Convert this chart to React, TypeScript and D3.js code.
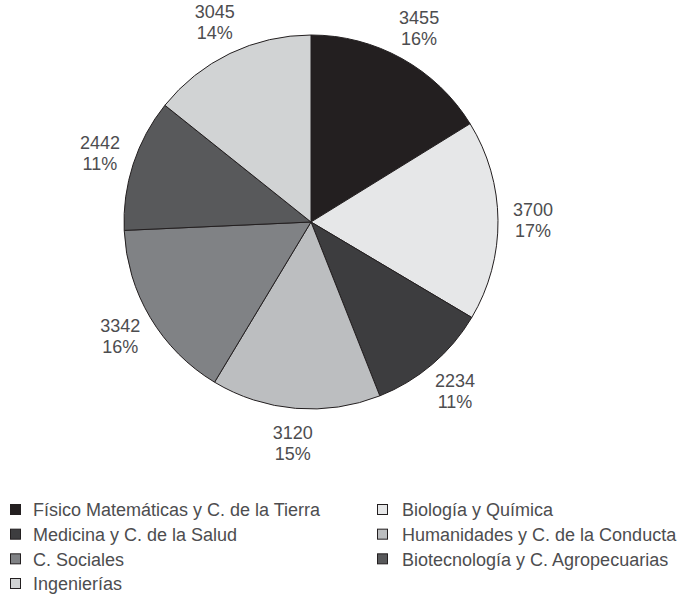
import React from "react";
import * as d3 from "d3";

const categories = [
  "Físico Matemáticas y C. de la Tierra",
  "Biología y Química",
  "Medicina y C. de la Salud",
  "Humanidades y C. de la Conducta",
  "C. Sociales",
  "Biotecnología y C. Agropecuarias",
  "Ingenierías",
];
const values = [3455, 3700, 2234, 3120, 3342, 2442, 3045];
const percentLabels = ["16%", "17%", "11%", "15%", "16%", "11%", "14%"];
const colors = ["#231f20", "#e6e7e8", "#3d3d3f", "#bcbec0", "#808285", "#58595b", "#d1d3d4"];

const W = 682;
const H = 597;
const cx = 311;
const cy = 222;
const R = 187;
const labelR = 222;

export default function App() {
  const pie = d3.pie<number>().sort(null).value((d) => d);
  const arcs = pie(values);
  const arcGen = d3.arc<d3.PieArcDatum<number>>().innerRadius(0).outerRadius(R);
  const labelArc = d3.arc<d3.PieArcDatum<number>>().innerRadius(labelR).outerRadius(labelR);

  const legendRow = d3.scaleLinear().domain([0, 3]).range([510, 584]);
  const legendCol = d3.scaleOrdinal<number, number>().domain([0, 1]).range([10, 377]);
  const textCol = d3.scaleOrdinal<number, number>().domain([0, 1]).range([33, 402]);

  return (
    <div style={{ position: "absolute", left: 0, top: 0 }}>
      <svg width={W} height={H} style={{ display: "block", fontFamily: "'Liberation Sans', Arial, sans-serif" }}>
        <rect width={W} height={H} fill="#ffffff" />
        <g transform={`translate(${cx},${cy})`}>
          {arcs.map((a, i) => (
            <path key={i} d={arcGen(a) || ""} fill={colors[i]} stroke="#231f20" strokeWidth={1} />
          ))}
          {arcs.map((a, i) => {
            const [x, y] = labelArc.centroid(a);
            return (
              <text key={"l" + i} x={x} y={y} textAnchor="middle" fontSize={18} fill="#4d4d4f">
                <tspan x={x} dy={-4}>{values[i]}</tspan>
                <tspan x={x} dy={21}>{percentLabels[i]}</tspan>
              </text>
            );
          })}
        </g>
        {categories.map((c, i) => {
          const row = Math.floor(i / 2);
          const col = i % 2;
          const x = legendCol(col);
          const y = legendRow(row);
          return (
            <g key={"g" + i}>
              <rect x={x + 0.5} y={y - 5.5} width={10} height={10} fill={colors[i]} stroke="#231f20" strokeWidth={1} />
              <text x={textCol(col)} y={y} dy="0.35em" fontSize={18} fill="#4d4d4f">{c}</text>
            </g>
          );
        })}
      </svg>
    </div>
  );
}
